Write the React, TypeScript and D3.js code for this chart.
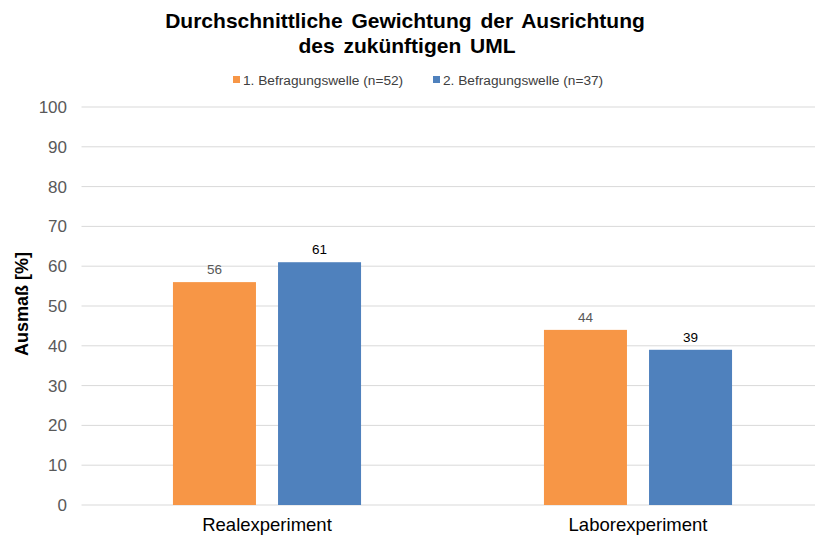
import React from "react";
import * as d3 from "d3";

const categories = ["Realexperiment", "Laborexperiment"];
const seriesNames = ["1. Befragungswelle (n=52)", "2. Befragungswelle (n=37)"];
const wave1 = [56, 44];
const wave2 = [61, 39];
const yTicks = [0, 10, 20, 30, 40, 50, 60, 70, 80, 90, 100];
const colors = ["#F79646", "#4F81BD"];

export default function App() {
  const W = 815, H = 536;
  const left = 81.5, right = 823.5, top = 107, bottom = 505;
  const y = d3.scaleLinear().domain([0, 100]).range([bottom, top]);
  const x0 = d3.scaleBand<string>().domain(categories).range([left, right]).paddingInner(0.493).paddingOuter(0.2465);
  const x1 = d3.scaleBand<string>().domain(seriesNames).range([0, x0.bandwidth()]).paddingInner(0.21).paddingOuter(0);
  const values = [wave1, wave2];
  const font = "'Liberation Sans', Arial, sans-serif";
  return (
    <svg width={W} height={H} style={{ position: "absolute", left: 0, top: 0, fontFamily: font }}>
      <rect width={W} height={H} fill="#fff" />
      <text x={405} y={28} textAnchor="middle" fontSize={21} fontWeight="bold" fill="#000" wordSpacing={3}>Durchschnittliche Gewichtung der Ausrichtung</text>
      <text x={407} y={53} textAnchor="middle" fontSize={21} fontWeight="bold" fill="#000" wordSpacing={3}>des zukünftigen UML</text>
      {seriesNames.map((s, i) => {
        const lx = i === 0 ? 233 : 433;
        return (
          <g key={s}>
            <rect x={lx} y={76} width={7} height={7} fill={colors[i]} />
            <text x={lx + 10} y={84.5} fontSize={13.7} fill="#404040">{s}</text>
          </g>
        );
      })}
      {yTicks.map((t) => (
        <g key={t}>
          <line x1={left} x2={W} y1={y(t)} y2={y(t)} stroke="#d9d9d9" strokeWidth={1} />
          <text x={67} y={y(t) + 6} textAnchor="end" fontSize={17} fill="#595959">{t}</text>
        </g>
      ))}
      <text transform={`translate(28,${(top + bottom) / 2 - 2}) rotate(-90)`} textAnchor="middle" fontSize={18} fontWeight="bold" fill="#000">Ausmaß [%]</text>
      {categories.map((c, ci) => (
        <g key={c}>
          {seriesNames.map((s, si) => {
            const v = values[si][ci];
            const bx = (x0(c) as number) + (x1(s) as number);
            return (
              <g key={s}>
                <rect x={bx} y={y(v)} width={x1.bandwidth()} height={y(0) - y(v)} fill={colors[si]} />
                <text x={bx + x1.bandwidth() / 2} y={y(v) - 8} textAnchor="middle" fontSize={13.5} fill={si === 0 ? "#595959" : "#000"}>{v}</text>
              </g>
            );
          })}
          <text x={(x0(c) as number) + x0.bandwidth() / 2} y={531} textAnchor="middle" fontSize={18.5} fill="#000">{c}</text>
        </g>
      ))}
    </svg>
  );
}
